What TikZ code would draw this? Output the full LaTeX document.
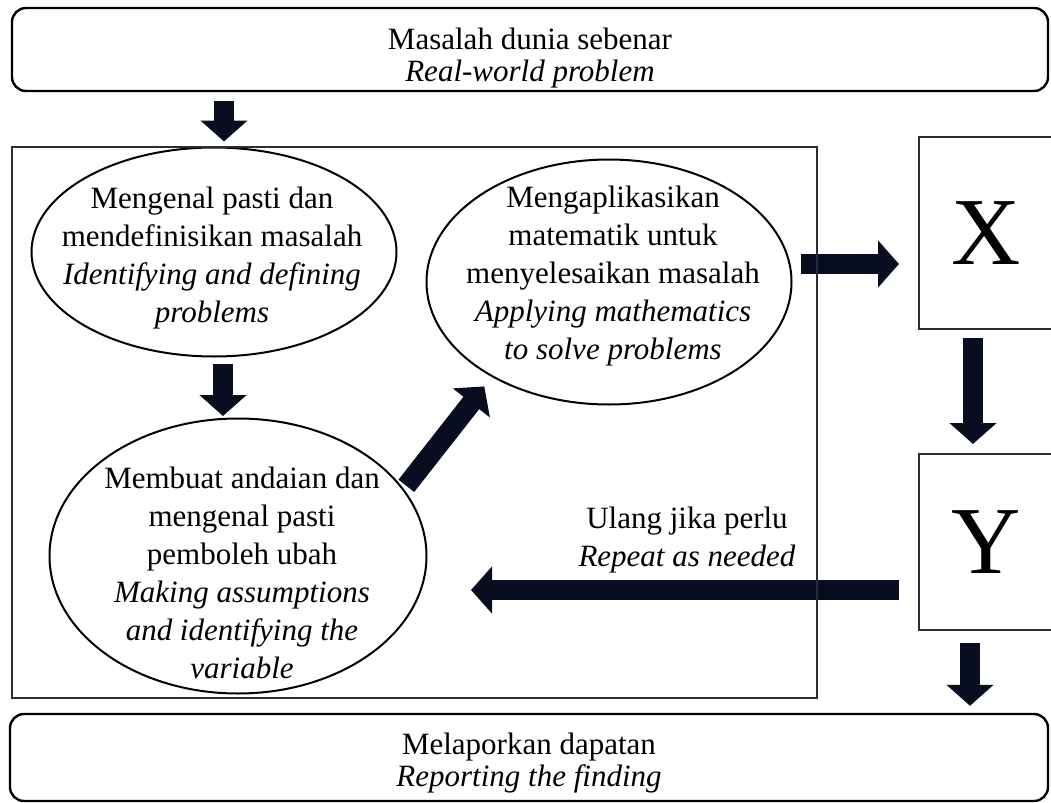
\documentclass[tikz,border=0pt]{standalone}
\usepackage{fontspec}
\setmainfont{Liberation Serif}
\usetikzlibrary{shapes.geometric, arrows.meta, positioning, calc}
\definecolor{arrowblue}{RGB}{8,14,32}
\definecolor{slate}{RGB}{38,46,58}

\begin{document}
\begin{tikzpicture}[
    x=0.5pt, y=-0.5pt,
    bubble/.style={
        ellipse,
        draw=black,
        line width=1pt,
        inner sep=0pt
    },
    txt/.style={align=center, font=\fontsize{15.5}{19}\selectfont, inner sep=0pt},
    pilltxt/.style={align=center, font=\fontsize{15.5}{16}\selectfont, inner sep=0pt},
    pill/.style={draw=black, line width=1.2pt, rounded corners=7pt},
    panel/.style={draw=slate, line width=1pt},
    letterbox/.style={draw=slate, line width=1pt, font=\fontsize{48}{50}\selectfont},
    fat/.style={draw=arrowblue, line width=10pt, -{Triangle[width=23pt, length=10.5pt]}}
]
\useasboundingbox (0,0) rectangle (1051,803);

\node[pill, minimum width=518pt, minimum height=41.5pt] (top) at (530,49.5) {};
\node[pilltxt] (topt) at (530,58) {Masalah dunia sebenar\\ \textit{Real-world problem}};
\node[pill, minimum width=519pt, minimum height=43.5pt] (bot) at (529,757.5) {};
\node[pilltxt] (bott) at (529,763) {Melaporkan dapatan\\ \textit{Reporting the finding}};

\node[bubble, minimum width=182.5pt, minimum height=104.5pt] (e1) at (214,252) {};
\node[bubble, minimum width=188.5pt, minimum height=137.5pt] (e2) at (238,556) {};
\node[bubble, minimum width=182.5pt, minimum height=122.5pt] (e3) at (609,282) {};

\node[txt] (e1t) at (212,258) {Mengenal pasti dan\\ mendefinisikan masalah\\
    \textit{Identifying and defining}\\ \textit{problems}};
\node[txt] (e2t) at (242,573) {Membuat andaian dan\\ mengenal pasti\\ pemboleh ubah\\
    \textit{Making assumptions}\\ \textit{and identifying the}\\ \textit{variable}};
\node[txt] (e3t) at (613,276) {Mengaplikasikan\\ matematik untuk\\ menyelesaikan masalah\\
    \textit{Applying mathematics}\\ \textit{to solve problems}};

\node[letterbox, minimum width=67pt, minimum height=96pt] (X) at (986,233) {X};
\node[letterbox, minimum width=67pt, minimum height=88pt] (Y) at (986,542) {Y};

\node[txt] (rep) at (687,540) {Ulang jika perlu\\ \textit{Repeat as needed}};

% arrows
\draw[fat, shorten <=4.5pt, shorten >=2.5pt] ($(top.south -| e1.north)+(10,0)$) -- ($(e1.north)+(10,0)$);
\draw[fat, shorten <=3.25pt, shorten >=0.75pt] ($(e1.south)+(9,0)$) -- ($(e2.north -| e1.south)+(9,0)$);
\draw[fat, shorten <=2pt, shorten >=6pt] (e2.22) -- (e3.219);
\draw[fat, shorten <=4.25pt, shorten >=9.5pt] ($(e3.east)+(0,-18)$) -- ($(e3.east -| X.west)+(0,-18)$);
\draw[fat, shorten <=4pt, shorten >=4.5pt] ($(X.south)+(-13,0)$) -- ($(Y.north)+(-13,0)$);
\draw[fat, shorten <=9.5pt, shorten >=21.75pt] ($(Y.west)+(0,48)$) -- ($(Y.west -| e2.east)+(0,48)$);
\draw[fat, shorten <=6pt, shorten >=3.5pt] ($(Y.south)+(-16,0)$) -- ($(bot.north -| Y.south)+(-16,0)$);

\node[panel, minimum width=402.5pt, minimum height=275.5pt] (frame) at (414.5,422.5) {};

\end{tikzpicture}
\end{document}
